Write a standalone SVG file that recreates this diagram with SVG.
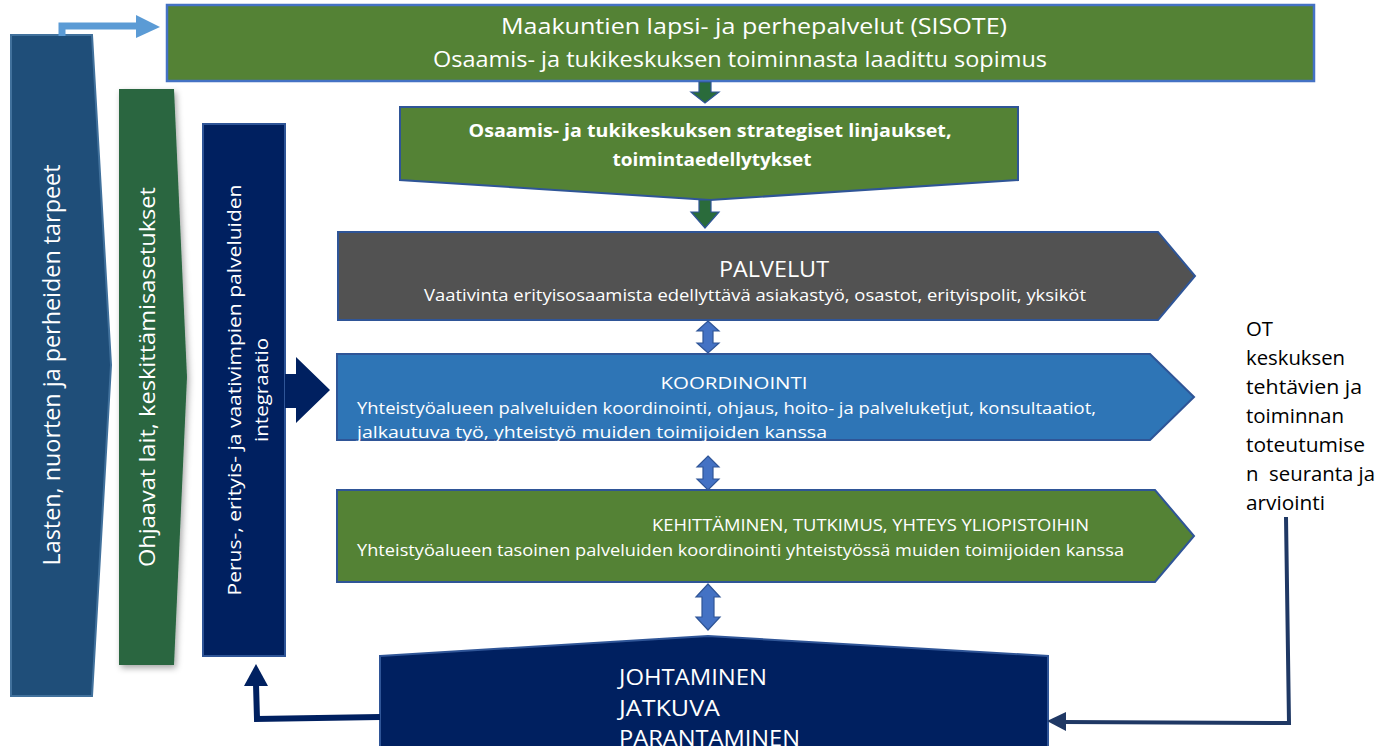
<svg xmlns="http://www.w3.org/2000/svg" width="1381" height="746" viewBox="0 0 1381 746">
<defs>
<style>
.t{font-family:"Open Sans","Liberation Sans",sans-serif;fill:#fff}
.b{font-family:"Open Sans","Liberation Sans",sans-serif;fill:#fff;font-weight:bold}
.k{font-family:"Open Sans","Liberation Sans",sans-serif;fill:#000;font-size:20px}
.bd{stroke:#2F5597;stroke-width:2}
.dbl{fill:#4472C4;stroke:#2F5597;stroke-width:1.2}
.dn{fill:#2A6B3B;stroke:#2F5597;stroke-width:1.2}
</style>
<filter id="sh" x="-30%" y="-5%" width="160%" height="115%">
<feDropShadow dx="2" dy="3" stdDeviation="3" flood-color="#000" flood-opacity="0.35"/>
</filter>
</defs>
<rect width="1381" height="746" fill="#fff"/>

<g id="lasten">
<polygon points="11,35 92,35 111,365 92,696 11,696" fill="#1F4E79" stroke="#41719C" stroke-width="2"/>
<text class="t" font-size="23" text-anchor="middle" textLength="401" lengthAdjust="spacingAndGlyphs" transform="translate(52,365) rotate(-90)" y="8">Lasten, nuorten ja perheiden tarpeet</text>
</g>

<g id="ohjaavat">
<polygon points="119,89 174,89 187,377 174,665 119,665" fill="#2A6641" filter="url(#sh)"/>
<text class="t" font-size="22" text-anchor="middle" textLength="380" lengthAdjust="spacingAndGlyphs" transform="translate(147,377) rotate(-90)" y="8">Ohjaavat lait, keskittämisasetukset</text>
</g>

<g id="perus">
<rect x="203" y="124" width="82" height="532" fill="#002060" stroke="#2F5597" stroke-width="2"/>
<text class="t" font-size="18" text-anchor="middle" textLength="411" lengthAdjust="spacingAndGlyphs" transform="translate(0,390) rotate(-90)" x="0" y="241">Perus-, erityis- ja vaativimpien palveluiden</text>
<text class="t" font-size="18" text-anchor="middle" textLength="104" lengthAdjust="spacingAndGlyphs" transform="translate(0,390) rotate(-90)" x="0" y="268">integraatio</text>
</g>

<g id="sisote">
<rect x="167" y="5" width="1147" height="76" fill="#548235" stroke="#4472C4" stroke-width="2.5"/>
<text class="t" font-size="21" text-anchor="middle" x="754" y="34" textLength="506" lengthAdjust="spacingAndGlyphs">Maakuntien lapsi- ja perhepalvelut (SISOTE)</text>
<text class="t" font-size="21" text-anchor="middle" x="740" y="67" textLength="614" lengthAdjust="spacingAndGlyphs">Osaamis- ja tukikeskuksen toiminnasta laadittu sopimus</text>
</g>

<g id="strategia">
<polygon points="400,107 1018,107 1018,180 710,200 400,180" fill="#548235" class="bd"/>
<text class="b" font-size="17" text-anchor="middle" x="710" y="137" textLength="483" lengthAdjust="spacingAndGlyphs">Osaamis- ja tukikeskuksen strategiset linjaukset,</text>
<text class="b" font-size="17" text-anchor="middle" x="712" y="166" textLength="199" lengthAdjust="spacingAndGlyphs">toimintaedellytykset</text>
</g>

<g id="palvelut">
<polygon points="338,232 1158,232 1195,276 1158,320 338,320" fill="#525252" class="bd"/>
<text class="t" font-size="22" text-anchor="middle" x="774" y="277" textLength="110" lengthAdjust="spacingAndGlyphs">PALVELUT</text>
<text class="t" font-size="16" text-anchor="middle" x="755" y="301" textLength="662" lengthAdjust="spacingAndGlyphs">Vaativinta erityisosaamista edellyttävä asiakastyö, osastot, erityispolit, yksiköt</text>
</g>

<g id="koordinointi">
<polygon points="337,354 1150,354 1194,397 1150,440 337,440" fill="#2E75B6" class="bd"/>
<text class="t" font-size="17" text-anchor="middle" x="734" y="389" textLength="147" lengthAdjust="spacingAndGlyphs">KOORDINOINTI</text>
<text class="t" font-size="16" x="357" y="414" textLength="739" lengthAdjust="spacingAndGlyphs">Yhteistyöalueen palveluiden koordinointi, ohjaus, hoito- ja palveluketjut, konsultaatiot,</text>
<text class="t" font-size="16" x="357" y="438" textLength="470" lengthAdjust="spacingAndGlyphs">jalkautuva työ, yhteistyö muiden toimijoiden kanssa</text>
</g>

<g id="kehittaminen">
<polygon points="337,490 1155,490 1194,536 1155,582 337,582" fill="#548235" class="bd"/>
<text class="t" font-size="16" x="652" y="531" textLength="437" lengthAdjust="spacingAndGlyphs">KEHITTÄMINEN, TUTKIMUS, YHTEYS YLIOPISTOIHIN</text>
<text class="t" font-size="16" x="357" y="556" textLength="767" lengthAdjust="spacingAndGlyphs">Yhteistyöalueen tasoinen palveluiden koordinointi yhteistyössä muiden toimijoiden kanssa</text>
</g>

<g id="johtaminen">
<polygon points="380,656 708,636 1048,656 1048,748 380,748" fill="#002060" class="bd"/>
<text class="t" font-size="21" x="619" y="685" textLength="148" lengthAdjust="spacingAndGlyphs">JOHTAMINEN</text>
<text class="t" font-size="21" x="619" y="716" textLength="101" lengthAdjust="spacingAndGlyphs">JATKUVA</text>
<text class="t" font-size="21" x="619" y="746" textLength="181" lengthAdjust="spacingAndGlyphs">PARANTAMINEN</text>
</g>

<g id="ot-text">
<text class="k" x="1246" y="336" textLength="27" lengthAdjust="spacingAndGlyphs">OT</text>
<text class="k" x="1246" y="365" textLength="99" lengthAdjust="spacingAndGlyphs">keskuksen</text>
<text class="k" x="1246" y="394" textLength="116" lengthAdjust="spacingAndGlyphs">tehtävien ja</text>
<text class="k" x="1246" y="423" textLength="98" lengthAdjust="spacingAndGlyphs">toiminnan</text>
<text class="k" x="1246" y="452" textLength="119" lengthAdjust="spacingAndGlyphs">toteutumise</text>
<text class="k" x="1246" y="481" xml:space="preserve" textLength="129" lengthAdjust="spacingAndGlyphs">n  seuranta ja</text>
<text class="k" x="1246" y="510" textLength="79" lengthAdjust="spacingAndGlyphs">arviointi</text>
</g>

<g id="connectors">
<polyline points="62,36 62,26 138,26" fill="none" stroke="#5B9BD5" stroke-width="7"/>
<polygon points="136,15 160,27 136,38" fill="#5B9BD5"/>
<polygon class="dn" points="699,82 711,82 711,92 719,92 705,103 691,92 699,92"/>
<polygon class="dn" points="699,200 711,200 711,212 719,212 705,228 691,212 699,212"/>
<polygon class="dbl" points="708,321 719,331 713,331 713,343 719,343 708,353 697,343 703,343 703,331 697,331"/>
<polygon class="dbl" points="708,456 719,467 713,467 713,479 719,479 708,490 697,479 703,479 703,467 697,467"/>
<polygon class="dbl" points="708,584 720,597 714,597 714,617 720,617 708,630 696,617 702,617 702,597 696,597"/>
<polygon points="285,374 296,374 296,357 330,390 296,423 296,408 285,408" fill="#002060"/>
<polyline points="380,717 257,719 256,684" fill="none" stroke="#002060" stroke-width="6"/>
<polygon points="244,686 256,664 268,686" fill="#002060"/>
<polyline points="1286,517 1289,723 1062,722" fill="none" stroke="#1F3864" stroke-width="4"/>
<polygon points="1066,712 1047,721 1066,731" fill="#1F3864"/>
</g>
</svg>
